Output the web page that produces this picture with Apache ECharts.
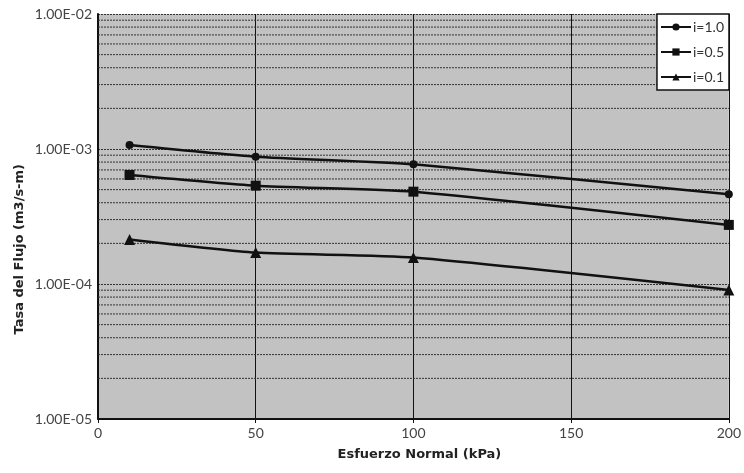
<!DOCTYPE html>
<html>
<head>
<meta charset="utf-8">
<script src="https://cdn.jsdelivr.net/npm/echarts@6/dist/echarts.min.js"></script>
<style>
  body { margin: 0; background: #fff; }
  #chart { width: 744px; height: 473px; }
</style>
</head>
<body>
<div id="chart"></div>
<script>
// esfuerzo normal (kPa)
var esfuerzo = [10, 50, 100, 200];
// tasa del flujo (m3/s-m) por gradiente
var flujo10 = [1.07e-3, 8.77e-4, 7.70e-4, 4.62e-4];
var flujo05 = [6.42e-4, 5.35e-4, 4.83e-4, 2.74e-4];
var flujo01 = [2.14e-4, 1.71e-4, 1.57e-4, 9.03e-5];
var seriesNames = ['i = 1.0', 'i = 0.5', 'i = 0.1'];
// lineas secundarias de la escala log (2..9 de cada decada)
var minorGrid = [];
[1e-5, 1e-4, 1e-3].forEach(function (d) {
    for (var k = 2; k <= 9; k++) minorGrid.push(+(d * k).toPrecision(2));
});
var xMin = 0, xMax = 200;

var font = 'Lato';
var titleFont = 'DejaVu Sans';

function pairs(ys) {
    return esfuerzo.map(function (x, i) { return [x, ys[i]]; });
}

function fmtExp(v) {
    var s = v.toExponential(2).toUpperCase();
    // 1.00E-2 -> 1.00E-02
    return s.replace(/E([+-])(\d)$/, 'E$10$2');
}

var chart = echarts.init(document.getElementById('chart'));

var lineStyle = { color: '#111', width: 2.5 };
var dashStyle = { color: '#333', width: 1, type: [2, 1] };

var series = [
    {
        name: seriesNames[0],
        type: 'line',
        smooth: 0.2,
        symbol: 'circle',
        symbolSize: 8,
        itemStyle: { color: '#111' },
        lineStyle: lineStyle,
        data: pairs(flujo10),
        z: 5
    },
    {
        name: seriesNames[1],
        type: 'line',
        smooth: 0.2,
        symbol: 'rect',
        symbolSize: 10,
        itemStyle: { color: '#111' },
        lineStyle: lineStyle,
        data: pairs(flujo05),
        z: 5
    },
    {
        name: seriesNames[2],
        type: 'line',
        smooth: 0.2,
        symbol: 'triangle',
        symbolSize: 11,
        itemStyle: { color: '#111' },
        lineStyle: lineStyle,
        data: pairs(flujo01),
        z: 5
    }
];

// rejilla menor punteada, una linea por valor
minorGrid.forEach(function (v) {
    series.push({
        type: 'line',
        silent: true,
        symbol: 'none',
        z: 1,
        lineStyle: dashStyle,
        data: [[xMin, v], [xMax, v]]
    });
});

chart.setOption({
    animation: false,
    textStyle: { fontFamily: font },
    grid: {
        left: 98, right: 15, top: 14, bottom: 54,
        show: true,
        backgroundColor: '#c2c2c2',
        borderWidth: 0
    },
    legend: {
        orient: 'vertical',
        right: 15,
        top: 14,
        backgroundColor: '#fff',
        borderColor: '#111',
        borderWidth: 1.5,
        borderRadius: 0,
        padding: [6, 5, 6, 3],
        itemWidth: 30,
        itemHeight: 9,
        itemGap: 11,
        data: seriesNames,
        formatter: function (n) { return n.replace(/ /g, ''); },
        textStyle: { fontFamily: font, fontSize: 14, color: '#333', padding: [0, 0, 0, -3] }
    },
    xAxis: {
        type: 'value',
        min: xMin,
        max: xMax,
        interval: 50,
        name: 'Esfuerzo Normal (kPa)',
        nameLocation: 'middle',
        nameGap: 29,
        nameTextStyle: { fontFamily: titleFont, fontWeight: 'bold', fontSize: 13, color: '#222', padding: [0, 0, 0, 12] },
        axisLine: { lineStyle: { color: '#111', width: 2 } },
        axisTick: { show: true, length: 4, lineStyle: { color: '#111' } },
        axisLabel: { fontFamily: font, fontSize: 14, color: '#444', margin: 7 },
        splitLine: { show: true, lineStyle: { color: '#111', width: 1 } }
    },
    yAxis: {
        type: 'log',
        logBase: 10,
        min: 1e-5,
        max: 1e-2,
        axisLine: { show: true, lineStyle: { color: '#111', width: 2 } },
        axisTick: { show: false },
        axisLabel: {
            fontFamily: font, fontSize: 14, color: '#444', margin: 6,
            formatter: fmtExp
        },
        splitLine: { show: true, lineStyle: dashStyle }
    },
    graphic: [{
        type: 'text',
        left: 13,
        top: 164,
        rotation: Math.PI / 2,
        style: {
            text: 'Tasa del Flujo (m3/s-m)',
            font: 'bold 13px "' + titleFont + '"',
            fill: '#222'
        }
    }],
    series: series
});
</script>
</body>
</html>
